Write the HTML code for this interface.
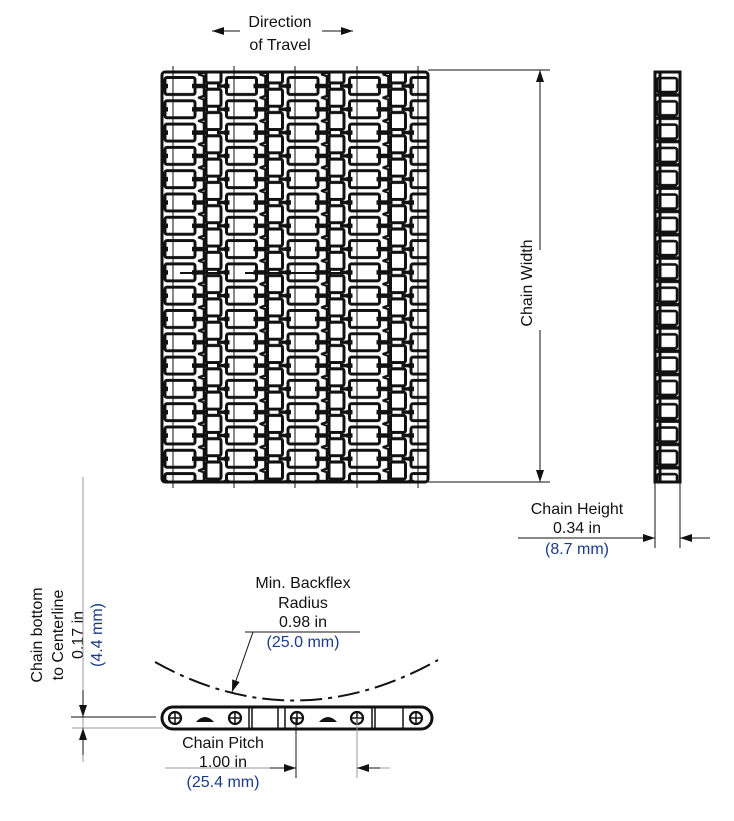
<!DOCTYPE html>
<html><head><meta charset="utf-8"><style>
html,body{margin:0;padding:0;background:#fff;}
svg{display:block;}
text{font-family:"Liberation Sans",Arial,sans-serif;font-size:16px;fill:#111;}
.b{fill:#1a3a8a;}
</style></head><body>
<svg width="734" height="821" viewBox="0 0 734 821" xmlns="http://www.w3.org/2000/svg">
<defs>
<pattern id="chain" x="162" y="75" width="61.5" height="23.3" patternUnits="userSpaceOnUse">
  <rect x="3" y="2.5" width="30" height="17" rx="2" fill="none" stroke="#111" stroke-width="3"/>
  <rect x="44" y="14.2" width="15" height="17" rx="2" fill="none" stroke="#111" stroke-width="3"/>
  <rect x="44" y="-9.1" width="15" height="17" rx="2" fill="none" stroke="#111" stroke-width="3"/>
  <path d="M30 11 H46" stroke="#111" stroke-width="4.5"/>
  <path d="M0 11 H6" stroke="#111" stroke-width="4.5"/>
  <path d="M55 11 H61.5" stroke="#111" stroke-width="3.5"/>
  <path d="M36 -1 L42 1 L42 21 L36 23" fill="none" stroke="#111" stroke-width="2.6"/>
</pattern>
<pattern id="side" x="655" y="75" width="25" height="23.3" patternUnits="userSpaceOnUse">
  <rect x="2" y="3" width="20" height="14" rx="2" fill="none" stroke="#111" stroke-width="2.6"/>
  <path d="M0 20 H25" stroke="#111" stroke-width="3.5"/>
</pattern>
<marker id="ah" markerWidth="12" markerHeight="8" refX="12" refY="4" orient="auto" markerUnits="userSpaceOnUse">
  <path d="M0 0 L12 4 L0 8 Z" fill="#111"/>
</marker>
</defs>

<text x="280" y="27" text-anchor="middle">Direction</text>
<text x="280" y="50" text-anchor="middle">of Travel</text>
<line x1="224" y1="31" x2="212" y2="31" stroke="#111" stroke-width="1" marker-end="url(#ah)"/>
<line x1="336" y1="31" x2="353" y2="31" stroke="#111" stroke-width="1" marker-end="url(#ah)"/>
<line x1="224" y1="31" x2="240" y2="31" stroke="#111" stroke-width="1"/>
<line x1="322" y1="31" x2="340" y2="31" stroke="#111" stroke-width="1"/>

<rect x="162" y="72" width="266" height="410" fill="url(#chain)"/>
<rect x="162" y="72" width="266" height="410" fill="none" stroke="#111" stroke-width="3" rx="3"/>
<g stroke="#111" stroke-width="1">
  <line x1="173" y1="66" x2="173" y2="488"/>
  <line x1="234" y1="66" x2="234" y2="488"/>
  <line x1="295" y1="66" x2="295" y2="488"/>
  <line x1="357" y1="66" x2="357" y2="488"/>
  <line x1="418" y1="66" x2="418" y2="488"/>
</g>
<path d="M180 273 H220 M245 273 H345" stroke="#111" stroke-width="2"/>

<g stroke="#111" stroke-width="1">
  <line x1="428" y1="70" x2="550" y2="70"/>
  <line x1="428" y1="482" x2="550" y2="482"/>
  <line x1="540" y1="250" x2="540" y2="70" marker-end="url(#ah)"/>
  <line x1="540" y1="330" x2="540" y2="482" marker-end="url(#ah)"/>
</g>
<text transform="translate(532,283) rotate(-90)" text-anchor="middle">Chain Width</text>

<rect x="655" y="72" width="25" height="410" fill="url(#side)"/>
<rect x="655" y="72" width="25" height="410" fill="none" stroke="#111" stroke-width="3"/>
<line x1="660" y1="72" x2="660" y2="482" stroke="#111" stroke-width="3"/>

<g stroke="#111" stroke-width="1">
  <line x1="655" y1="482" x2="655" y2="548"/>
  <line x1="680" y1="482" x2="680" y2="548"/>
  <line x1="518" y1="538" x2="655" y2="538" marker-end="url(#ah)"/>
  <line x1="710" y1="538" x2="680" y2="538" marker-end="url(#ah)"/>
</g>
<text x="577" y="514" text-anchor="middle">Chain Height</text>
<text x="577" y="533" text-anchor="middle">0.34 in</text>
<text x="577" y="554" text-anchor="middle" class="b">(8.7 mm)</text>

<g transform="translate(37,635) rotate(-90)"><text text-anchor="middle" y="5">Chain bottom</text></g>
<g transform="translate(58,635) rotate(-90)"><text text-anchor="middle" y="5">to Centerline</text></g>
<g transform="translate(78,635) rotate(-90)"><text text-anchor="middle" y="5">0.17 in</text></g>
<g transform="translate(97,635) rotate(-90)"><text text-anchor="middle" y="5" class="b">(4.4 mm)</text></g>
<line x1="83" y1="477" x2="83" y2="762" stroke="#999" stroke-width="1"/>
<line x1="83" y1="690" x2="83" y2="717" stroke="#111" marker-end="url(#ah)"/>
<line x1="83" y1="755" x2="83" y2="728" stroke="#111" marker-end="url(#ah)"/>
<line x1="71" y1="717" x2="156" y2="717" stroke="#111" stroke-width="1"/>
<line x1="72" y1="728" x2="163" y2="728" stroke="#999" stroke-width="1"/>

<text x="303" y="588" text-anchor="middle">Min. Backflex</text>
<text x="303" y="608" text-anchor="middle">Radius</text>
<text x="303" y="627" text-anchor="middle">0.98 in</text>
<text x="303" y="647" text-anchor="middle" class="b">(25.0 mm)</text>
<line x1="245" y1="632" x2="360" y2="632" stroke="#111" stroke-width="1"/>
<line x1="253" y1="632" x2="232" y2="692" stroke="#111" stroke-width="1" marker-end="url(#ah)"/>
<path d="M155 662 Q295 740 438 660" fill="none" stroke="#111" stroke-width="2" stroke-dasharray="22,6,4,6"/>

<rect x="162" y="707" width="270" height="22" rx="11" fill="none" stroke="#111" stroke-width="3"/>
<g stroke="#111" stroke-width="1.5">
  <line x1="249" y1="707" x2="249" y2="729"/><line x1="252" y1="707" x2="252" y2="729"/>
  <line x1="278" y1="707" x2="278" y2="729"/>
  <line x1="285" y1="707" x2="285" y2="729"/>
  <line x1="372" y1="707" x2="372" y2="729"/><line x1="375" y1="707" x2="375" y2="729"/>
  <line x1="403" y1="707" x2="403" y2="729"/>
</g>
<g fill="none" stroke="#111" stroke-width="2.2">
  <circle cx="175" cy="718" r="6"/><circle cx="235" cy="718" r="6"/>
  <circle cx="297" cy="718" r="6"/><circle cx="357" cy="718" r="6"/>
  <circle cx="416" cy="718" r="6"/>
</g>
<g stroke="#111" stroke-width="1.5">
  <path d="M169 718h12M175 712v12M229 718h12M235 712v12M291 718h12M297 712v12M351 718h12M357 712v12M410 718h12M416 712v12"/>
</g>
<path d="M196 722 Q205 712 214 722 Z M319 722 Q328 712 337 722 Z" fill="#111"/>

<line x1="296" y1="718" x2="296" y2="778" stroke="#111" stroke-width="1"/>
<line x1="357" y1="718" x2="357" y2="778" stroke="#999" stroke-width="1"/>
<line x1="165" y1="768" x2="296" y2="768" stroke="#999" stroke-width="1"/>
<line x1="270" y1="768" x2="296" y2="768" stroke="#111" marker-end="url(#ah)"/>
<line x1="390" y1="768" x2="357" y2="768" stroke="#999" stroke-width="1"/>
<line x1="380" y1="768" x2="357" y2="768" stroke="#111" marker-end="url(#ah)"/>
<text x="223" y="748" text-anchor="middle">Chain Pitch</text>
<text x="223" y="767" text-anchor="middle">1.00 in</text>
<text x="223" y="787" text-anchor="middle" class="b">(25.4 mm)</text>
</svg>
</body></html>
